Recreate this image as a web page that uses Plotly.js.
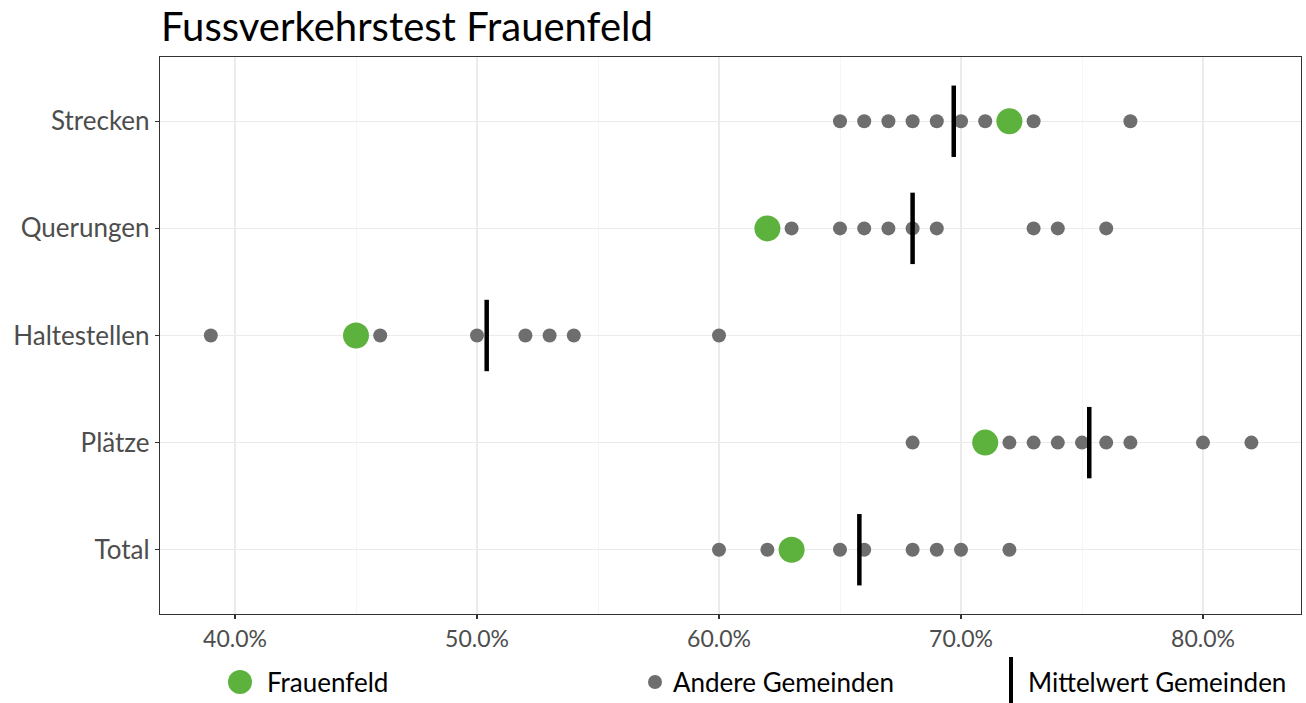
<!DOCTYPE html>
<html>
<head>
<meta charset="utf-8">
<script src="https://cdn.plot.ly/plotly-3.0.1.min.js"></script>
<style>html,body{margin:0;padding:0;background:#fff;}#chart{width:1306px;height:703px;}</style>
</head>
<body>
<div id="chart"></div>
<script>
// Categories (top to bottom)
const categories = ["Strecken", "Querungen", "Haltestellen", "Plätze", "Total"];

// Other municipalities (share, %)
const andereStrecken     = [65, 66, 67, 68, 69, 70, 71, 73, 77];
const andereQuerungen    = [63, 65, 66, 67, 68, 69, 73, 74, 76];
const andereHaltestellen = [39, 46, 50, 52, 53, 54, 60];
const anderePlaetze      = [68, 72, 73, 74, 75, 76, 77, 80, 82];
const andereTotal        = [60, 62, 65, 66, 68, 69, 70, 72];

// Frauenfeld values (%)
const frauenfeld = [72, 62, 45, 71, 63];

// Mean of municipalities (%)
const mittelwert = [69.7, 68.0, 50.4, 75.3, 65.8];

const xTicks = [40, 50, 60, 70, 80];

const andereLists = [andereStrecken, andereQuerungen, andereHaltestellen, anderePlaetze, andereTotal];
const ax = [], ay = [];
andereLists.forEach((arr, i) => arr.forEach(v => { ax.push(v / 100); ay.push(categories[i]); }));

const green = "#5cb23d", grey = "#6e6e6e";
const FONT = "Lato, 'Open Sans', sans-serif";

const traces = [
  {type: "scatter", mode: "markers", name: "Andere Gemeinden", x: ax, y: ay,
   marker: {color: grey, size: 14}, showlegend: false, hoverinfo: "x+y"},
  {type: "scatter", mode: "markers", name: "Frauenfeld", x: frauenfeld.map(v => v / 100), y: categories,
   marker: {color: green, size: 26}, showlegend: false},
  {type: "scatter", mode: "markers", name: "Mittelwert Gemeinden", x: mittelwert.map(v => v / 100), y: categories,
   marker: {symbol: "line-ns", size: 51, color: "#000", line: {color: "#000", width: 4.5}}, showlegend: false}
];

const legY = -(682 - 614) / 557;
const layout = {
  width: 1306, height: 703,
  margin: {l: 160, r: 5, t: 57, b: 89},
  paper_bgcolor: "#fff", plot_bgcolor: "#fff",
  font: {family: FONT, color: "#4d4d4d"},
  title: {text: "Fussverkehrstest Frauenfeld", x: 161 / 1306, xref: "container", xanchor: "left",
          y: 1 - 27 / 703, yref: "container", yanchor: "middle",
          font: {family: FONT, size: 40, color: "#000"}},
  xaxis: {range: [0.369, 0.8405], tickvals: xTicks.map(v => v / 100), tickformat: ".1%",
          showgrid: true, gridcolor: "#ebebeb", gridwidth: 1.2,
          minor: {dtick: 0.05, tick0: 0.35, showgrid: true, gridcolor: "#f4f4f4", gridwidth: 0.8},
          zeroline: false, showline: true, mirror: true, linecolor: "#333", linewidth: 1.2,
          ticks: "outside", ticklen: 4, tickcolor: "#333", tickwidth: 1.1,
          tickfont: {size: 23, color: "#4d4d4d", family: FONT}},
  yaxis: {type: "category", categoryorder: "array", categoryarray: categories.slice().reverse(),
          range: [-0.6, 4.6], showgrid: true, gridcolor: "#ebebeb", gridwidth: 1.2,
          zeroline: false, showline: true, mirror: true, linecolor: "#333", linewidth: 1.2,
          ticks: "outside", ticklen: 4, tickcolor: "#333", tickwidth: 1.1,
          tickfont: {size: 26, color: "#4d4d4d", family: FONT}},
  showlegend: false,
  shapes: [
    {type: "circle", xref: "paper", yref: "paper", x0: (228 - 160) / 1141, x1: (252 - 160) / 1141,
     y0: -(682 + 12 - 614) / 557, y1: -(682 - 12 - 614) / 557, fillcolor: green, line: {width: 0}},
    {type: "circle", xref: "paper", yref: "paper", x0: (648 - 160) / 1141, x1: (662 - 160) / 1141,
     y0: -(682 + 7 - 614) / 557, y1: -(682 - 7 - 614) / 557, fillcolor: grey, line: {width: 0}},
    {type: "line", xref: "paper", yref: "paper", x0: (1011 - 160) / 1141, x1: (1011 - 160) / 1141,
     y0: -(703 - 614) / 557, y1: -(657 - 614) / 557, line: {color: "#000", width: 4}}
  ],
  annotations: [
    {xref: "paper", yref: "paper", x: (265 - 160) / 1141, y: legY, xanchor: "left", yanchor: "middle",
     text: "Frauenfeld", showarrow: false, font: {size: 26, color: "#000", family: FONT}},
    {xref: "paper", yref: "paper", x: (671 - 160) / 1141, y: legY, xanchor: "left", yanchor: "middle",
     text: "Andere Gemeinden", showarrow: false, font: {size: 26, color: "#000", family: FONT}},
    {xref: "paper", yref: "paper", x: (1026 - 160) / 1141, y: legY, xanchor: "left", yanchor: "middle",
     text: "Mittelwert Gemeinden", showarrow: false, font: {size: 26, color: "#000", family: FONT}}
  ]
};

Plotly.newPlot("chart", traces, layout, {displayModeBar: false, staticPlot: true});
</script>
</body>
</html>
